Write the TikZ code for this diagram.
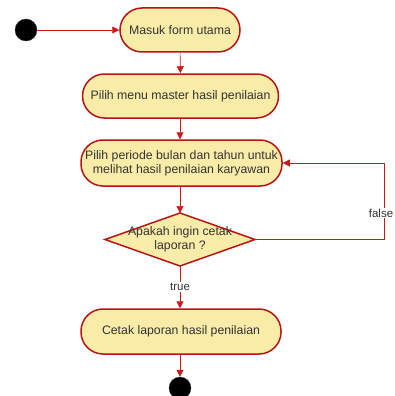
\documentclass[tikz,border=0pt]{standalone}
\usepackage{fontspec}
\setmainfont{Liberation Sans}
\usetikzlibrary{arrows.meta,shapes.geometric}
\definecolor{actfill}{HTML}{F9EBA8}
\definecolor{actborder}{HTML}{B81414}
\definecolor{lineclr}{HTML}{CC1A1A}
\definecolor{txt}{HTML}{333333}
\begin{document}
\begin{tikzpicture}[x=1pt,y=-1pt,
  act/.style={draw=actborder, line width=1.5pt, fill=actfill, rounded corners=22pt,
    minimum height=44pt, inner sep=0pt, text=txt, align=center,
    font=\fontsize{12.3}{14}\selectfont},
  dot/.style={circle, fill=black, draw=black!80, minimum size=22pt, inner sep=0pt},
  flow/.style={draw=lineclr, line width=0.6pt, -{Triangle[length=7pt,width=7pt]}},
  lbl/.style={fill=white, inner sep=1pt, text=txt, font=\fontsize{11.5}{13}\selectfont}]
\useasboundingbox (0,0) rectangle (395,396);
\node[dot] (start) at (26,30) {};
\node[act, minimum width=120pt] (n1) at (180,30) {Masuk form utama};
\node[act, minimum width=196pt] (n2) at (180.5,96) {Pilih menu master hasil penilaian};
\node[act, minimum width=201pt, minimum height=46pt] (n3) at (181.5,163) {Pilih periode bulan dan tahun untuk\\melihat hasil penilaian karyawan};
\coordinate (dn) at (180,213);
\coordinate (de) at (255,239.5);
\coordinate (ds) at (180,266);
\coordinate (dw) at (105,239.5);
\draw[draw=actborder, line width=1.5pt, fill=actfill] (dn) -- (de) -- (ds) -- (dw) -- cycle;
\node[text=txt, align=center, font=\fontsize{12.3}{14}\selectfont] (dtext) at (180,239) {Apakah ingin cetak\\laporan ?};
\node[act, minimum width=200pt, minimum height=45pt] (n4) at (181,331.5) {Cetak laporan hasil penilaian};
\node[dot] (end) at (180,388) {};
\coordinate (c1) at (384,239.5);
\coordinate (c2) at (384,163);
\draw[flow] (start) -- (n1);
\draw[flow] (n1) -- (n2);
\draw[flow] (n2.south -| n1) -- (n3.north -| n1);
\draw[flow] (n3.south -| n1) -- (dn);
\draw[flow] (ds) -- (n4.north -| ds) node[lbl, midway] (ltrue) {true};
\draw[flow] (de) -- (c1) -- (c2) -- (n3.east);
\node[lbl, inner sep=0.5pt] (lfalse) at (381,213) {false};
\draw[flow] (n4.south -| ds) -- (end);
\end{tikzpicture}
\end{document}
